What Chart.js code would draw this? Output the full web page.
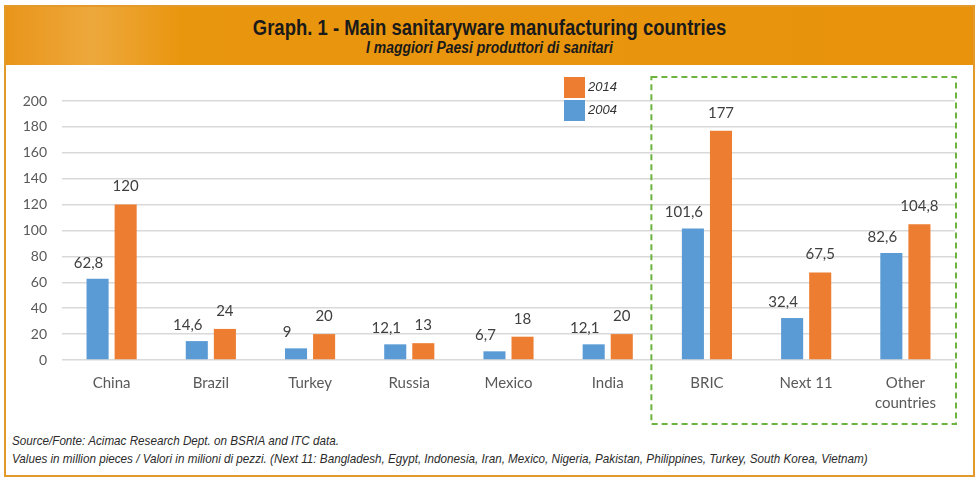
<!DOCTYPE html>
<html>
<head>
<meta charset="utf-8">
<script src="https://cdn.jsdelivr.net/npm/chart.js@4.4.1/dist/chart.umd.min.js"></script>
<style>
    html, body { margin: 0; padding: 0; background: #fff; }
    #wrap { position: relative; width: 980px; height: 481px; overflow: hidden; }
    #frame {
        position: absolute; left: 4px; top: 5px; width: 967px; height: 468px;
        border: 2px solid #E39A2B; box-sizing: content-box;
    }
    #header {
        position: absolute; left: 6px; top: 7px; width: 967px; height: 58px;
        background: linear-gradient(90deg, #E9951A 0%, #EDA83C 9%, #E9960F 18%, #E8930B 100%);
        text-align: center; font-family: "Liberation Sans", Arial, sans-serif;
        color: #1a1a1a;
    }
    #header .t1 { position: absolute; left: 0; right: 0; top: 8px; font-size: 22px; font-weight: bold; transform: scaleX(0.84); }
    #header .t2 { position: absolute; left: 0; right: 0; top: 32px; font-size: 16px; font-weight: bold; font-style: italic; transform: scaleX(0.87); }
    .foot {
        position: absolute; left: 12px; font-family: "Liberation Sans", Arial, sans-serif;
        font-style: italic; font-size: 13.5px; color: #2b2b2b; white-space: nowrap;
        transform: scaleX(0.865); transform-origin: left center;
    }
    canvas { position: absolute; left: 0; top: 0; }
</style>
</head>
<body>
<div id="wrap">
    <div id="frame"></div>
    <div id="header">
        <div class="t1">Graph. 1 - Main sanitaryware manufacturing countries</div>
        <div class="t2">I maggiori Paesi produttori di sanitari</div>
    </div>
    <div class="foot" style="top:433px">Source/Fonte: Acimac Research Dept. on BSRIA and ITC data.</div>
    <div class="foot" style="top:451px">Values in million pieces / Valori in milioni di pezzi. (Next 11: Bangladesh, Egypt, Indonesia, Iran, Mexico, Nigeria, Pakistan, Philippines, Turkey, South Korea, Vietnam)</div>
    <canvas id="chart" width="980" height="481"></canvas>
</div>
<script>
// Data
const categories = ['China', 'Brazil', 'Turkey', 'Russia', 'Mexico', 'India', 'BRIC', 'Next 11', ['Other', 'countries']];
const values2004 = [62.8, 14.6, 9, 12.1, 6.7, 12.1, 101.6, 32.4, 82.6];
const values2014 = [120, 24, 20, 13, 18, 20, 177, 67.5, 104.8];
const yTicks = [0, 20, 40, 60, 80, 100, 120, 140, 160, 180, 200];

const BLUE = '#5B9BD5';
const ORANGE = '#ED7D31';

// Value labels above the bars (comma decimals)
const valueLabels = {
    id: 'valueLabels',
    afterDatasetsDraw(chart) {
        const ctx = chart.ctx;
        ctx.save();
        ctx.font = '15px Lato, "Open Sans", sans-serif';
        ctx.fillStyle = '#404040';
        ctx.textAlign = 'center';
        ctx.textBaseline = 'middle';
        chart.data.datasets.forEach((ds, i) => {
            const meta = chart.getDatasetMeta(i);
            const dx = i === 0 ? -9 : 0;
            const dy = i === 0 ? -16 : -18;
            meta.data.forEach((bar, j) => {
                const txt = String(ds.data[j]).replace('.', ',');
                ctx.fillText(txt, bar.x + dx, bar.y + dy);
            });
        });
        ctx.restore();
    }
};

// Stacked legend + dashed green box around the aggregates
const decorations = {
    id: 'decorations',
    afterDraw(chart) {
        const ctx = chart.ctx;
        const x = chart.scales.x;
        const catW = (x.right - x.left) / categories.length;
        ctx.save();

        // legend (2014 on top)
        const items = [chart.data.datasets[1], chart.data.datasets[0]];
        items.forEach((ds, k) => {
            const top = 77 + k * 23;
            ctx.fillStyle = ds.backgroundColor;
            ctx.fillRect(564, top, 21, 21);
            ctx.fillStyle = '#333';
            ctx.font = 'italic 13px "Liberation Sans", Arial, sans-serif';
            ctx.textBaseline = 'middle';
            ctx.textAlign = 'left';
            ctx.fillText(ds.label, 588, top + 10);
        });

        // dashed box
        const left = x.getPixelForValue(6) - catW * 0.56;
        const right = x.right + 1;
        ctx.strokeStyle = '#6DB33F';
        ctx.lineWidth = 2;
        ctx.setLineDash([6, 4]);
        ctx.strokeRect(left, 77, right - left, 347);
        ctx.restore();
    }
};

new Chart(document.getElementById('chart').getContext('2d'), {
    type: 'bar',
    data: {
        labels: categories,
        datasets: [
            { label: '2004', data: values2004, backgroundColor: BLUE, categoryPercentage: 0.566, barPercentage: 0.786 },
            { label: '2014', data: values2014, backgroundColor: ORANGE, categoryPercentage: 0.566, barPercentage: 0.786 }
        ]
    },
    options: {
        responsive: false,
        animation: false,
        layout: { padding: { left: 0, right: 25, top: 101, bottom: 0 } },
        plugins: {
            legend: { display: false },
            tooltip: { enabled: false }
        },
        scales: {
            y: {
                min: 0,
                max: 200,
                afterFit: s => { s.width = 62; },
                afterBuildTicks: s => { s.ticks = yTicks.map(v => ({ value: v })); },
                ticks: {
                    padding: 15,
                    color: '#595959',
                    font: { family: 'Lato, "Open Sans", sans-serif', size: 14 }
                },
                grid: { color: '#D9D9D9', lineWidth: 1.5, drawTicks: false },
                border: { display: false }
            },
            x: {
                afterFit: s => { s.height = 121; },
                ticks: {
                    padding: 13,
                    color: '#595959',
                    font: { family: 'Lato, "Open Sans", sans-serif', size: 15, lineHeight: 1.35 }
                },
                grid: { display: false, drawTicks: false },
                border: { display: false }
            }
        }
    },
    plugins: [valueLabels, decorations]
});
</script>
</body>
</html>
